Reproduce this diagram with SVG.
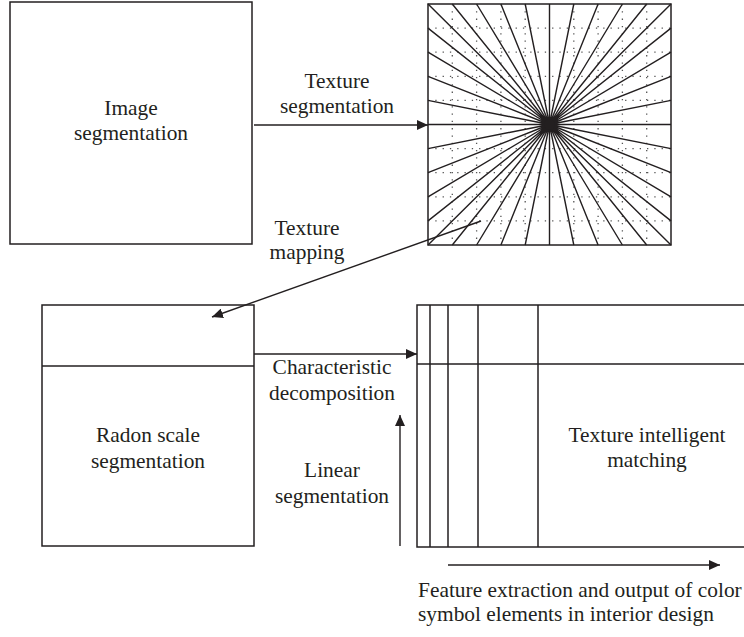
<svg xmlns="http://www.w3.org/2000/svg" width="744" height="637" viewBox="0 0 744 637">
<defs>
<marker id="ah" viewBox="0 0 11 10" refX="11" refY="5" markerWidth="11" markerHeight="10" markerUnits="userSpaceOnUse" orient="auto">
<path d="M0,0 L11,5 L0,10 Z" fill="#231f20"/>
</marker>
</defs>
<style>
.box{fill:#fff;stroke:#231f20;stroke-width:1.5}
.ln{stroke:#231f20;stroke-width:1.5;fill:none}
.ray{stroke:#231f20;stroke-width:1.4;fill:none}
.dot{stroke:#555;stroke-width:1.3;stroke-dasharray:1.3 6;fill:none}
.con{stroke:#231f20;stroke-width:1.4;fill:none;marker-end:url(#ah)}
text{font-family:"Liberation Serif","Times New Roman",serif;font-size:21.4px;fill:#231f20}
.c{text-anchor:middle}
</style>
<rect width="744" height="637" fill="#fff"/>
<g id="image-segmentation">
<rect class="box" x="10" y="2" width="242" height="242"/>
<text class="c" x="131" y="115">Image</text>
<text class="c" x="131" y="140">segmentation</text>
</g>
<g id="texture-grid">
<rect class="box" x="428" y="4" width="243" height="241"/>
<path class="dot" d="M452.3,4V245M476.6,4V245M500.9,4V245M525.2,4V245M573.8,4V245M598.1,4V245M622.4,4V245M646.7,4V245M428,28.1H671M428,52.2H671M428,76.3H671M428,100.4H671M428,148.6H671M428,172.7H671M428,196.8H671M428,220.9H671"/>
<path class="ray" d="M549.5,124.5L428,4M549.5,124.5L452.3,4M549.5,124.5L476.6,4M549.5,124.5L500.9,4M549.5,124.5L525.2,4M549.5,124.5L549.5,4M549.5,124.5L573.8,4M549.5,124.5L598.1,4M549.5,124.5L622.4,4M549.5,124.5L646.7,4M549.5,124.5L671,4M549.5,124.5L428,245M549.5,124.5L452.3,245M549.5,124.5L476.6,245M549.5,124.5L500.9,245M549.5,124.5L525.2,245M549.5,124.5L549.5,245M549.5,124.5L573.8,245M549.5,124.5L598.1,245M549.5,124.5L622.4,245M549.5,124.5L646.7,245M549.5,124.5L671,245M549.5,124.5L428,28.1M549.5,124.5L428,52.2M549.5,124.5L428,76.3M549.5,124.5L428,100.4M549.5,124.5L428,124.5M549.5,124.5L428,148.6M549.5,124.5L428,172.7M549.5,124.5L428,196.8M549.5,124.5L428,220.9M549.5,124.5L671,28.1M549.5,124.5L671,52.2M549.5,124.5L671,76.3M549.5,124.5L671,100.4M549.5,124.5L671,124.5M549.5,124.5L671,148.6M549.5,124.5L671,172.7M549.5,124.5L671,196.8M549.5,124.5L671,220.9"/>
<circle cx="549.5" cy="124.5" r="5.5" fill="#231f20"/>
</g>
<g id="radon-scale-segmentation">
<rect class="box" x="42" y="305" width="212" height="241"/>
<path class="ln" d="M42,366H254"/>
<text class="c" x="148" y="442">Radon scale</text>
<text class="c" x="148" y="468">segmentation</text>
</g>
<g id="texture-intelligent-matching">
<rect class="box" x="417" y="305" width="340" height="242"/>
<path class="ln" d="M417,364H757M430,305V547M448,305V547M478,305V547M538,305V547"/>
<text class="c" x="647" y="442">Texture intelligent</text>
<text class="c" x="647" y="467">matching</text>
</g>
<g id="connectors">
<path class="con" d="M254,125H428"/>
<path class="con" d="M481,221L212,317"/>
<path class="con" d="M254,354H417"/>
<path class="con" d="M400,546V415"/>
<path class="con" d="M448,565H720"/>
</g>
<g id="labels">
<text class="c" x="337" y="88">Texture</text>
<text class="c" x="337" y="113">segmentation</text>
<text class="c" x="307" y="235">Texture</text>
<text class="c" x="307" y="259">mapping</text>
<text class="c" x="332" y="374">Characteristic</text>
<text class="c" x="332" y="400">decomposition</text>
<text class="c" x="332" y="477">Linear</text>
<text class="c" x="332" y="503">segmentation</text>
<text x="418" y="597">Feature extraction and output of color</text>
<text x="418" y="621">symbol elements in interior design</text>
</g>
</svg>
